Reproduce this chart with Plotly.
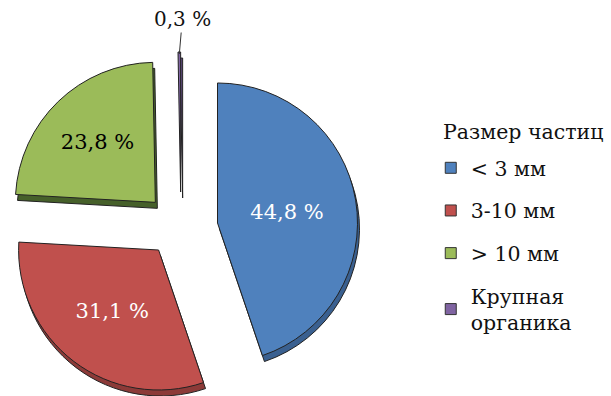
import math
import plotly.graph_objects as go

# ---- data ----
labels = ["< 3 мм", "3-10 мм", "> 10 мм", "Крупная<br>органика"]
values = [44.8, 31.1, 23.8, 0.3]
text_labels = ["44,8 %", "31,1 %", "23,8 %", "0,3 %"]
legend_title = "Размер частиц"

# ---- style ----
colors = ["#4F81BD", "#C0504D", "#9BBB59", "#8064A2"]
side_colors = ["#3A6090", "#8C3A38", "#46602A", "#5E4A7A"]
text_colors = ["white", "white", "black", "black"]
inside_label = [True, True, True, False]
FONT = "DejaVu Serif"
TRANSPARENT = "rgba(0,0,0,0)"

W, H = 611, 396
R = 140
CX, CY = 181, 229
PULL = 37
DX, DY = 2, 6


def domain(cx, cy):
    return dict(x=[(cx - R) / W, (cx + R) / W],
                y=[1 - (cy + R) / H, 1 - (cy - R) / H])


fig = go.Figure()
total = sum(values)
centres, mids = [], []
cum = 0.0
for v in values:
    a0 = cum / total * 2 * math.pi
    cum += v
    a1 = cum / total * 2 * math.pi
    mid = (a0 + a1) / 2
    cx = CX + PULL * math.sin(mid)
    cy = CY - PULL * math.cos(mid)
    cx = min(max(cx, R), W - R - DX)
    cy = min(max(cy, R), H - R - DY)
    centres.append((cx, cy))
    mids.append(mid)

n = len(values)


def slice_trace(i, cx, cy, fill, show_text):
    return go.Pie(
        values=values,
        labels=[f"s{j}" for j in range(n)],
        sort=False, direction="clockwise", rotation=0,
        domain=domain(cx, cy),
        marker=dict(
            colors=[fill[j] if j == i else TRANSPARENT for j in range(n)],
            line=dict(color="#222222", width=[1 if j == i else 0 for j in range(n)]),
        ),
        texttemplate=[text_labels[j] if (j == i and show_text and inside_label[j]) else ""
                      for j in range(n)],
        textposition="inside",
        insidetextorientation="horizontal",
        textfont=dict(family=FONT, size=21, color=text_colors),
        showlegend=False, hoverinfo="skip",
    )


# depth (side) layer first, then the top faces
for i, (cx, cy) in enumerate(centres):
    fig.add_trace(slice_trace(i, cx + DX, cy + DY, side_colors, False))
for i, (cx, cy) in enumerate(centres):
    fig.add_trace(slice_trace(i, cx, cy, colors, True))

# legend entries
for j, lab in enumerate(labels):
    fig.add_trace(go.Scatter(
        x=[None], y=[None], mode="markers", name=lab, legendgroup=f"g{j}",
        marker=dict(symbol="square", size=11, color=colors[j],
                    line=dict(color="#333333", width=1)),
        hoverinfo="skip",
    ))

annotations = [dict(text=legend_title, xref="paper", yref="paper",
                    x=0.722, y=0.667, xanchor="left", yanchor="middle",
                    showarrow=False, font=dict(family=FONT, size=20.5, color="#111111"))]

# outside label for the small slice, with a short leader line to its tip
for j in range(n):
    if not inside_label[j]:
        cx, cy = centres[j]
        tip_x = cx + R * math.sin(mids[j])
        tip_y = cy - R * math.cos(mids[j])
        annotations.append(dict(
            text=text_labels[j], xref="paper", yref="paper",
            x=tip_x / W, y=1 - (tip_y + 2) / H,
            showarrow=True, arrowhead=0, arrowwidth=1, arrowcolor="#333333",
            ax=3, ay=-35, standoff=0,
            font=dict(family=FONT, size=20, color="#111111"),
        ))

fig.update_layout(
    width=W, height=H,
    margin=dict(l=0, r=0, t=0, b=0, autoexpand=False),
    paper_bgcolor="white", plot_bgcolor="white",
    xaxis=dict(visible=False), yaxis=dict(visible=False),
    font=dict(family=FONT, size=20.5, color="#111111"),
    legend=dict(x=0.705, y=0.6263, xanchor="left", yanchor="top",
                font=dict(family=FONT, size=20.5, color="#111111"),
                tracegroupgap=13, bgcolor="rgba(0,0,0,0)"),
    annotations=annotations,
)

fig.write_html("out.html",
               post_script="document.body.style.margin='0';document.body.style.overflow='hidden';")
